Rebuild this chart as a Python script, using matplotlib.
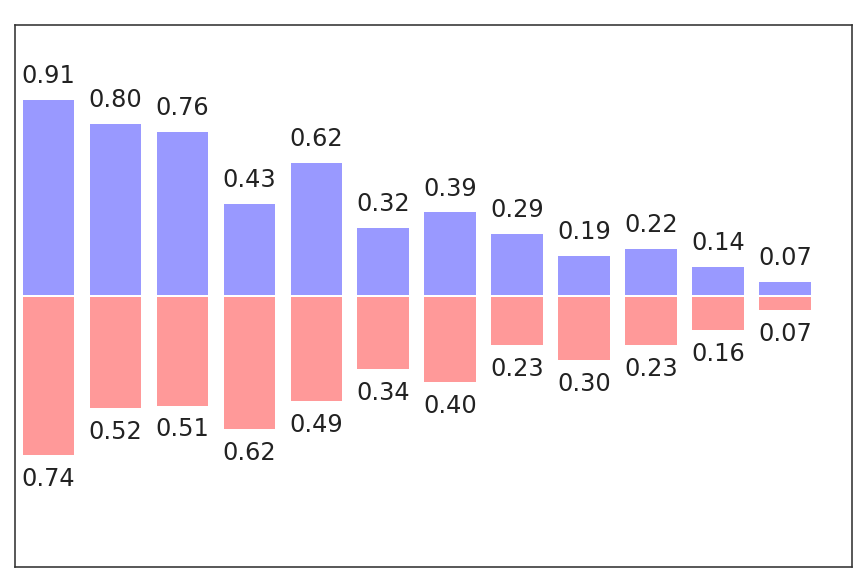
import numpy as np
import matplotlib
matplotlib.use("Agg")
import matplotlib.pyplot as plt

X = np.arange(12)
Y1 = [0.91, 0.80, 0.76, 0.43, 0.62, 0.32, 0.39, 0.29, 0.19, 0.22, 0.14, 0.07]
Y2 = [0.74, 0.52, 0.51, 0.62, 0.49, 0.34, 0.40, 0.23, 0.30, 0.23, 0.16, 0.07]

dpi = 144
fig = plt.figure(figsize=(862 / dpi, 581 / dpi), dpi=dpi)
ax = fig.add_axes([15 / 862, 1 - 567 / 581, (852 - 15) / 862, (567 - 25) / 581])

ax.bar(X, Y1, facecolor='#9999ff', edgecolor='white')
ax.bar(X, [-v for v in Y2], facecolor='#ff9999', edgecolor='white')

for x, y in zip(X, Y1):
    ax.text(x, y + 0.05, '%.2f' % y, ha='center', va='bottom', fontsize=12, color='#222222')
for x, y in zip(X, Y2):
    ax.text(x, -y - 0.05, '%.2f' % y, ha='center', va='top', fontsize=12, color='#222222')

ax.set_xlim(-0.5, 12)
ax.set_ylim(-1.25, 1.25)
ax.set_xticks([])
ax.set_yticks([])
for s in ax.spines.values():
    s.set_color('#333333')

fig.savefig('out.png', dpi=dpi)
